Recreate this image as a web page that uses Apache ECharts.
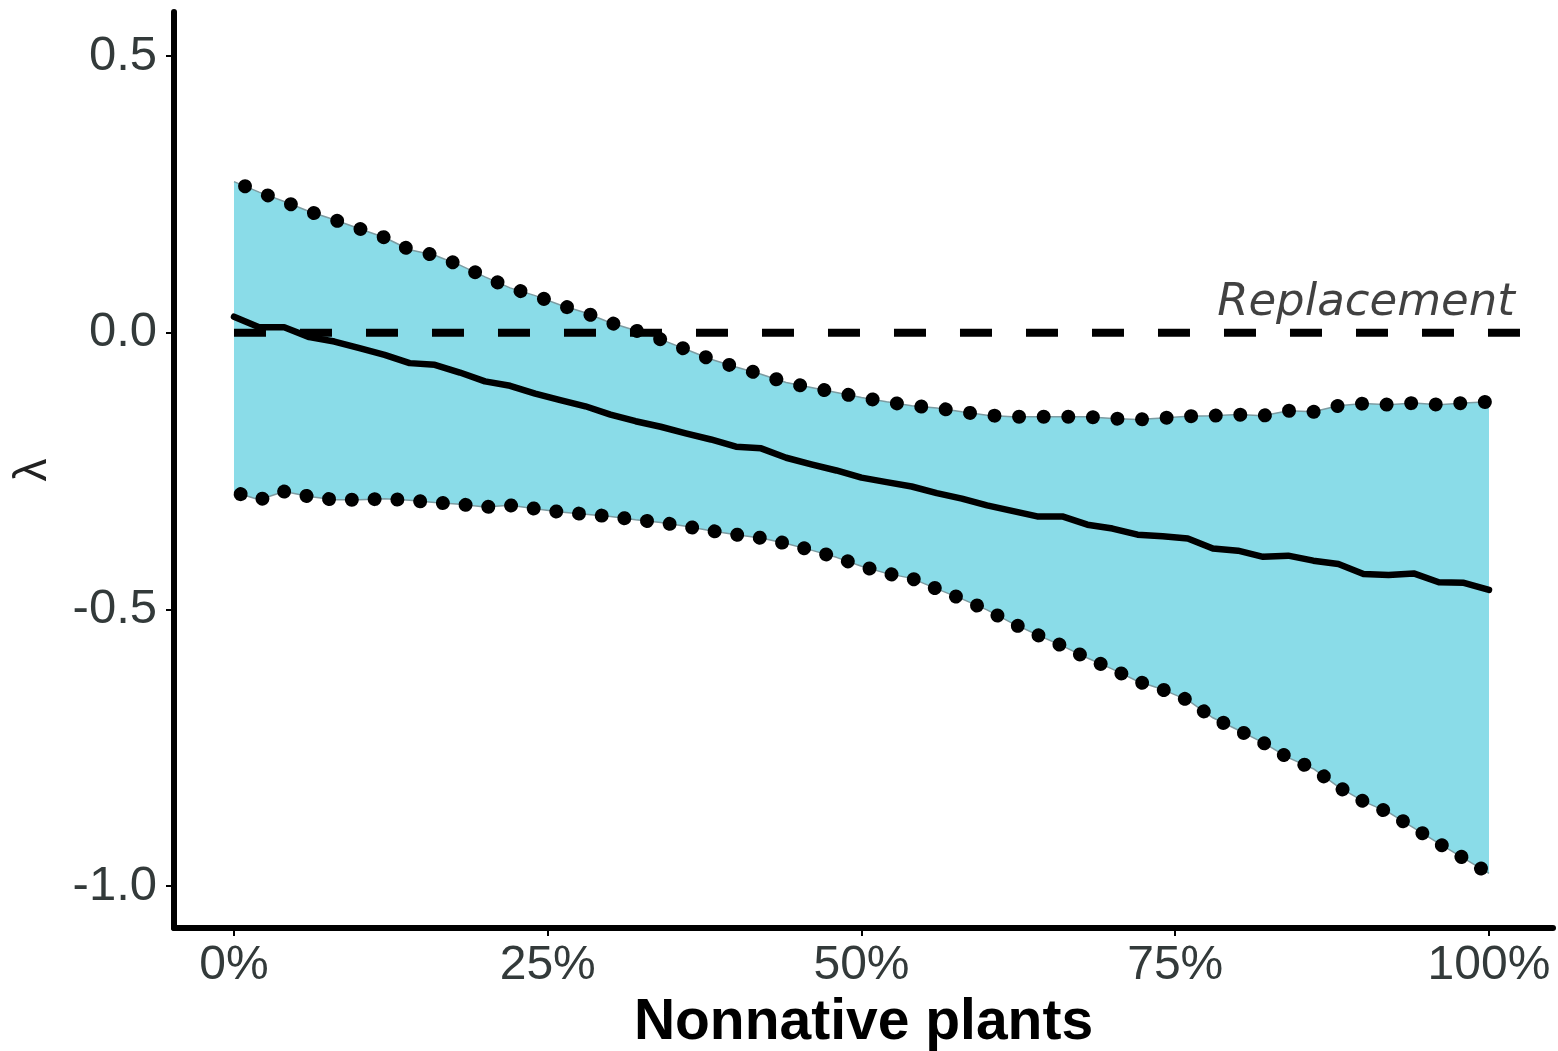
<!DOCTYPE html>
<html>
<head>
<meta charset="utf-8">
<script src="https://cdn.jsdelivr.net/npm/echarts@6/dist/echarts.min.js"></script>
<style>
html,body{margin:0;padding:0;background:#fff;}
#chart{width:1558px;height:1051px;}
</style>
</head>
<body>
<div id="chart"></div>
<script>
// ---- Data ----
const xPct = [0,2,4,6,8,10,12,14,16,18,20,22,24,26,28,30,32,34,36,38,40,42,44,46,48,50,52,54,56,58,60,62,64,66,68,70,72,74,76,78,80,82,84,86,88,90,92,94,96,98,100];
const upperCI = [0.273,0.254,0.237,0.219,0.204,0.188,0.172,0.150,0.140,0.122,0.101,0.081,0.067,0.050,0.036,0.018,0.004,-0.012,-0.030,-0.048,-0.062,-0.075,-0.090,-0.099,-0.108,-0.117,-0.125,-0.132,-0.136,-0.143,-0.149,-0.152,-0.152,-0.152,-0.152,-0.155,-0.157,-0.154,-0.151,-0.150,-0.148,-0.150,-0.141,-0.143,-0.132,-0.128,-0.130,-0.127,-0.130,-0.127,-0.125];
const lowerCI = [-0.288,-0.302,-0.287,-0.296,-0.302,-0.302,-0.300,-0.303,-0.307,-0.310,-0.315,-0.312,-0.318,-0.324,-0.328,-0.332,-0.338,-0.343,-0.350,-0.358,-0.365,-0.371,-0.381,-0.393,-0.406,-0.422,-0.435,-0.444,-0.463,-0.481,-0.501,-0.525,-0.546,-0.566,-0.588,-0.608,-0.630,-0.645,-0.664,-0.696,-0.718,-0.741,-0.768,-0.788,-0.821,-0.847,-0.867,-0.895,-0.923,-0.950,-0.977];
const meanLambda = [0.029,0.010,0.010,-0.008,-0.016,-0.028,-0.040,-0.055,-0.058,-0.072,-0.088,-0.096,-0.110,-0.122,-0.133,-0.148,-0.160,-0.170,-0.182,-0.193,-0.206,-0.209,-0.226,-0.238,-0.249,-0.262,-0.270,-0.278,-0.290,-0.300,-0.312,-0.322,-0.332,-0.332,-0.347,-0.354,-0.365,-0.368,-0.372,-0.390,-0.394,-0.405,-0.403,-0.412,-0.418,-0.436,-0.438,-0.435,-0.451,-0.452,-0.465];
const replacementLine = [[0,0],[103,0]];
const replacementLabelPos = [90.2,0.054];
const xTicks = [0,25,50,75,100];
const yTicks = [-1.0,-0.5,0.0,0.5];

const pairs = (ys) => xPct.map((x,i)=>[x, ys[i]]);

const chart = echarts.init(document.getElementById('chart'), null, {renderer:'canvas'});
const FONT = 'Liberation Sans, Arial, sans-serif';
const labelColor = '#333a3a';

function renderBand(params, api){
  const pts = [];
  for (let i=0;i<xPct.length;i++) pts.push(api.coord([xPct[i], upperCI[i]]));
  for (let i=xPct.length-1;i>=0;i--) pts.push(api.coord([xPct[i], lowerCI[i]]));
  return {type:'polygon', shape:{points:pts}, style:{fill:'#8ADCE8', stroke:null}};
}

chart.setOption({
  animation:false,
  backgroundColor:'#ffffff',
  grid:{left:174, right:5, top:12, bottom:123, containLabel:false, outerBoundsMode:'none'},
  xAxis:{
    type:'value', min:-4.78, max:105.1,
    name:'Nonnative plants', nameLocation:'middle', nameGap:51,
    nameTextStyle:{fontFamily:FONT, fontWeight:'bold', fontSize:57, color:'#000'},
    axisLine:{show:true, onZero:false, lineStyle:{color:'#000', width:6, cap:'round'}},
    axisTick:{show:true, length:8, customValues:xTicks, lineStyle:{color:'#000', width:2}},
    axisLabel:{show:true, customValues:xTicks, margin:14, fontFamily:FONT, fontSize:48, color:labelColor, formatter:(v)=>Math.round(v)+'%'},
    splitLine:{show:false}
  },
  yAxis:{
    type:'value', min:-1.0759, max:0.5796,
    name:'λ', nameLocation:'middle', nameGap:118, nameRotate:90,
    nameTextStyle:{fontFamily:FONT, fontSize:46, color:'#222'},
    axisLine:{show:true, onZero:false, lineStyle:{color:'#000', width:6, cap:'round'}},
    axisTick:{show:true, length:8, customValues:yTicks, lineStyle:{color:'#000', width:2}},
    axisLabel:{show:true, customValues:yTicks, margin:17, fontFamily:FONT, fontSize:49, color:labelColor, formatter:(v)=>v.toFixed(1)},
    splitLine:{show:false}
  },
  series:[
    {name:'band', type:'custom', renderItem:renderBand, data:[[0,0]], silent:true, z:1},
    {name:'upperEdge', type:'line', data:pairs(upperCI), symbol:'none', lineStyle:{color:'#7d9ca2', width:1.5}, z:2},
    {name:'lowerEdge', type:'line', data:pairs(lowerCI), symbol:'none', lineStyle:{color:'#7d9ca2', width:1.5}, z:2},
    {name:'replacement', type:'line', data:replacementLine, symbol:'none', lineStyle:{color:'#000', width:8, type:[32,34], cap:'butt'}, z:3},
    {name:'mean', type:'line', data:pairs(meanLambda), symbol:'none', lineStyle:{color:'#000', width:6.5, join:'round', cap:'round'}, z:4},
    {name:'upperDots', type:'line', data:pairs(upperCI), symbol:'none', lineStyle:{color:'#000', width:14, type:[0.01,24.6], dashOffset:-12, cap:'round'}, z:5},
    {name:'lowerDots', type:'line', data:pairs(lowerCI), symbol:'none', lineStyle:{color:'#000', width:14, type:[0.01,22.8], dashOffset:-7, cap:'round'}, z:5},
    {name:'replacementLabel', type:'scatter', data:[replacementLabelPos], symbolSize:0, silent:true,
      label:{show:true, position:'inside', formatter:'Replacement', fontFamily:'DejaVu Sans, sans-serif', fontStyle:'italic', fontSize:45, color:'#111'}, z:6}
  ]
});
</script>
</body>
</html>
